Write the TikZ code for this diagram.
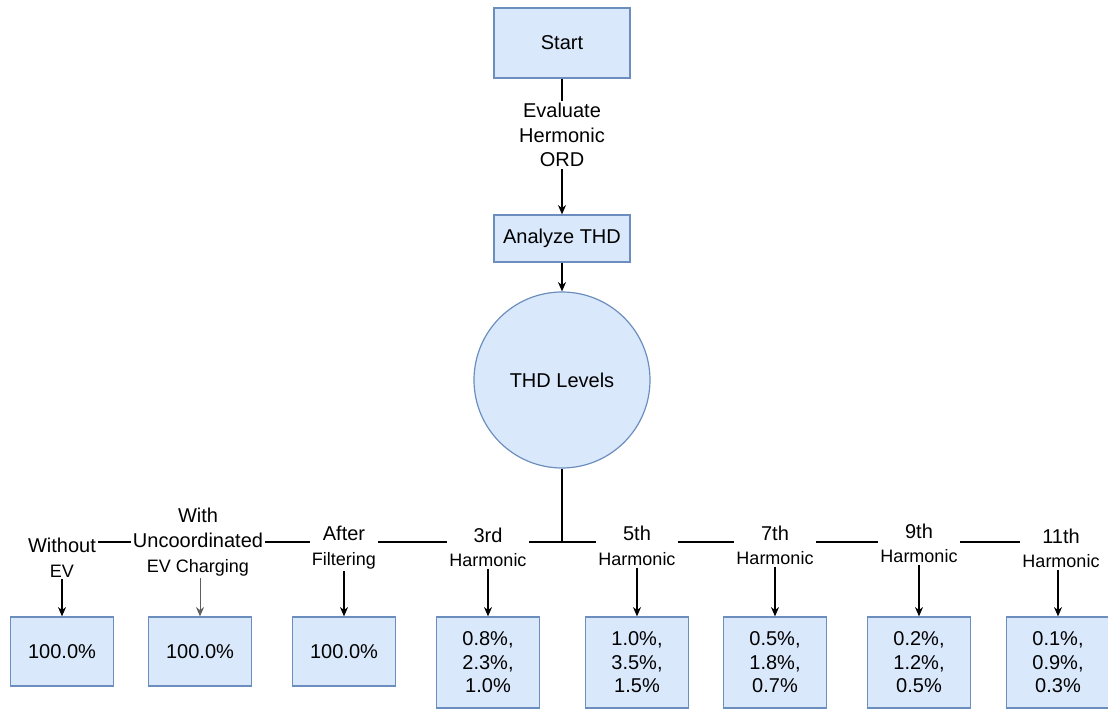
\documentclass[tikz,border=0pt]{standalone}
\usepackage{fontspec}
\setmainfont{Liberation Sans}
\usepackage{xcolor}
\usepackage{tikz}
\usetikzlibrary{arrows.meta, positioning, calc}
\definecolor{boxfill}{RGB}{218, 232, 252}
\definecolor{boxedge}{RGB}{108, 142, 191}
\definecolor{softgray}{RGB}{95, 95, 95}
\newcommand{\subtxt}[1]{{\fontsize{13.5}{16}\selectfont #1}}

\begin{document}
\begin{tikzpicture}[x=0.75pt, y=-0.75pt,
        bigtext/.style={font=\fontsize{15}{18.5}\selectfont},
        box/.style={draw=boxedge, fill=boxfill, line width=0.9pt, inner sep=0pt, align=center, bigtext},
        result/.style={box, minimum width=77.25pt, minimum height=51.75pt},
        tallresult/.style={box, minimum width=77.25pt, minimum height=68.25pt, font=\fontsize{15}{17.6}\selectfont},
        lbl/.style={fill=white, inner sep=1.5pt, align=center, bigtext},
        link/.style={line width=1pt},
        arr/.style={link, -{Stealth[length=7pt, width=6pt]}}]
    \useasboundingbox (0,0) rectangle (1108,709);

    % top of the flow
    \node[box, minimum width=102pt, minimum height=52.5pt] (start) at (562,43) {Start};
    \node[lbl] (evalord) at (562,135) {Evaluate\\Hermonic\\ORD};
    \node[box, minimum width=102pt, minimum height=35.25pt] (analyze) at (562,238.5) {Analyze THD};
    \node[circle, draw=boxedge, fill=boxfill, line width=0.9pt, minimum size=132pt, bigtext] (thd) at (562,380) {THD Levels};
    \draw[link] (start) -- (evalord);
    \draw[arr] (evalord) -- (analyze);
    \draw[arr] (analyze) -- (thd);

    % branch labels
    \coordinate (hub) at (562,542);
    \node[lbl] (wo) at (62,557.5) {Without\\\subtxt{EV}};
    \node[lbl] (wi) at (198,542) {With\\Uncoordinated\\\subtxt{EV Charging}};
    \node[lbl] (af) at (344,547.5) {After\\\subtxt{Filtering}};
    \node[lbl] (h3) at (488,547.5) {3rd\\\subtxt{Harmonic}};
    \node[lbl] (h5) at (637,546) {5th\\\subtxt{Harmonic}};
    \node[lbl] (h7) at (775,545.5) {7th\\\subtxt{Harmonic}};
    \node[lbl] (h9) at (919,543.5) {9th\\\subtxt{Harmonic}};
    \node[lbl] (h11) at (1061,548.5) {11th\\\subtxt{Harmonic}};
    \draw[link] (thd) -- (hub);
    \foreach \a/\b in {wo/wi, wi/af, af/h3, h3/h5, h5/h7, h7/h9, h9/h11}
        \draw[link] (\a.east |- hub) -- (\b.west |- hub);

    % results
    \node[result] (r1) at (62,651.5) {100.0\%};
    \node[result] (r2) at (200,651.5) {100.0\%};
    \node[result] (r3) at (344,651.5) {100.0\%};
    \node[tallresult] (r4) at (488,662.5) {0.8\%,\\2.3\%,\\1.0\%};
    \node[tallresult] (r5) at (637,662.5) {1.0\%,\\3.5\%,\\1.5\%};
    \node[tallresult] (r6) at (775,662.5) {0.5\%,\\1.8\%,\\0.7\%};
    \node[tallresult] (r7) at (919,662.5) {0.2\%,\\1.2\%,\\0.5\%};
    \node[tallresult] (r8) at (1058,662.5) {0.1\%,\\0.9\%,\\0.3\%};
    \foreach \l/\r in {wo/r1, af/r3, h3/r4, h5/r5, h7/r6, h9/r7, h11/r8}
        \draw[arr] (\r |- \l.south) -- (\r.north);
    \draw[arr, draw=softgray, fill=softgray, line width=0.7pt] (r2 |- wi.south) -- (r2.north);
\end{tikzpicture}
\end{document}
